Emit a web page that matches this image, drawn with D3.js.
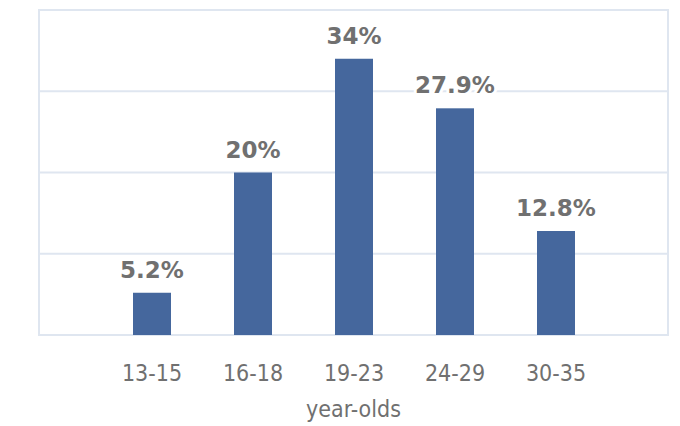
<!DOCTYPE html>
<html>
<head>
    <script type="text/javascript" src="https://cdn.jsdelivr.net/npm/d3@7/dist/d3.min.js" charset="utf-8"></script>
    <style>
        body { margin: 0; background: #fff; }
        svg { display: block; }
    </style>
</head>
<body>
    <div id="viz"></div>
    <script type="text/javascript">
    //Data
    var ageGroups = ['13-15', '16-18', '19-23', '24-29', '30-35'];
    var shares = [5.2, 20, 34, 27.9, 12.8];
    var shareLabels = ['5.2%', '20%', '34%', '27.9%', '12.8%'];
    var gridTicks = [0, 10, 20, 30, 40];
    var axisTitle = 'year-olds';

    //Sizes
    var width = 680;
    var height = 426;
    var plotLeft = 39, plotRight = 668, plotTop = 10, plotBottom = 335;
    var lineColor = '#dfe6f0';
    var barColor = '#45679d';
    var textColor = '#707070';

    var svg = d3.select('#viz')
        .append('svg')
        .attr('width', width)
        .attr('height', height);

    //Scales
    var y = d3.scaleLinear().domain([0, 40]).range([plotBottom, plotTop]);
    var x = d3.scaleBand()
        .domain(ageGroups)
        .range([101.5, 606.5])
        .paddingInner(0.6238)
        .paddingOuter(0.3119);

    //Gridlines
    svg.selectAll('line.grid')
        .data(gridTicks)
        .enter()
        .append('line')
        .attr('class', 'grid')
        .attr('x1', plotLeft)
        .attr('x2', plotRight)
        .attr('y1', function(d) { return y(d) })
        .attr('y2', function(d) { return y(d) })
        .attr('stroke', lineColor)
        .attr('stroke-width', 2);

    //Left and right border
    svg.selectAll('line.side')
        .data([plotLeft, plotRight])
        .enter()
        .append('line')
        .attr('class', 'side')
        .attr('x1', function(d) { return d })
        .attr('x2', function(d) { return d })
        .attr('y1', plotTop - 1)
        .attr('y2', plotBottom + 1)
        .attr('stroke', lineColor)
        .attr('stroke-width', 2);

    //Bars
    svg.selectAll('rect.bar')
        .data(shares)
        .enter()
        .append('rect')
        .attr('class', 'bar')
        .attr('x', function(d, i) { return x(ageGroups[i]) })
        .attr('y', function(d) { return y(d) })
        .attr('width', x.bandwidth())
        .attr('height', function(d) { return y(0) - y(d) })
        .attr('fill', barColor);

    //Value labels (white halo so gridlines don't cross the text)
    var labels = svg.selectAll('g.lbl')
        .data(shares)
        .enter()
        .append('g')
        .attr('class', 'lbl')
        .attr('transform', function(d, i) {
            return 'translate(' + (x(ageGroups[i]) + x.bandwidth() / 2) + ',' + (y(d) - 15) + ')';
        });

    labels.append('text')
        .attr('text-anchor', 'middle')
        .style('font-family', '"DejaVu Sans", Verdana, sans-serif')
        .style('font-weight', 'bold')
        .style('font-size', '23px')
        .attr('stroke', '#fff')
        .attr('stroke-width', 6)
        .attr('stroke-linejoin', 'round')
        .text(function(d, i) { return shareLabels[i] });

    labels.append('text')
        .attr('text-anchor', 'middle')
        .style('font-family', '"DejaVu Sans", Verdana, sans-serif')
        .style('font-weight', 'bold')
        .style('font-size', '23px')
        .attr('fill', textColor)
        .text(function(d, i) { return shareLabels[i] });

    //Category labels
    svg.selectAll('text.tick')
        .data(ageGroups)
        .enter()
        .append('text')
        .attr('class', 'tick')
        .attr('x', function(d) { return x(d) + x.bandwidth() / 2 })
        .attr('y', 381)
        .attr('text-anchor', 'middle')
        .style('font-family', '"DejaVu Sans Condensed", "DejaVu Sans", sans-serif')
        .style('font-stretch', 'condensed')
        .style('font-size', '23px')
        .attr('fill', textColor)
        .text(function(d) { return d });

    //Axis title
    svg.append('text')
        .attr('x', 353.5)
        .attr('y', 417)
        .attr('text-anchor', 'middle')
        .style('font-family', '"DejaVu Sans Condensed", "DejaVu Sans", sans-serif')
        .style('font-stretch', 'condensed')
        .style('font-size', '23px')
        .attr('fill', textColor)
        .text(axisTitle);
    </script>
</body>
</html>
